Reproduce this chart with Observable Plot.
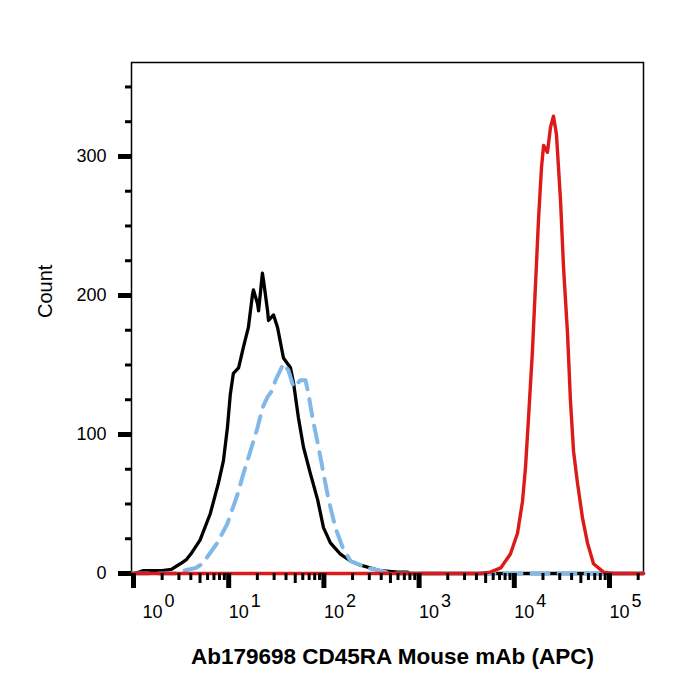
<!DOCTYPE html>
<html>
<head>
<meta charset="utf-8">
<script src="https://cdn.jsdelivr.net/npm/d3@7"></script>
<script src="https://cdn.jsdelivr.net/npm/@observablehq/plot@0.6"></script>
<style>
  body { margin: 0; background: #fff; }
  #chart svg { display: block; }
</style>
</head>
<body>
<div id="chart"></div>
<script>
// Fluorescence intensity axis (log) and event count axis
const intensityDomain = [0.953, 227500];
const countDomain = [0, 367.6];

const decades = [1, 10, 100, 1000, 10000, 100000];
const decadeExponents = ["0", "1", "2", "3", "4", "5"];
const countTicks = [0, 100, 200, 300];
const countMinorTicks = [25, 50, 75, 125, 150, 175, 225, 250, 275, 325, 350];

const xTitle = "Ab179698 CD45RA Mouse mAb (APC)";
const yTitle = "Count";

// [intensity, count]
const unstained = [
  [0.953, 0], [1.15, 1], [1.25, 2], [2.0, 2], [2.5, 3], [3.1, 7], [3.6, 10], [4.0, 14],
  [5.0, 24], [6.4, 43], [7.8, 65], [8.8, 81], [9.7, 105], [10.4, 129], [11.2, 144],
  [12.7, 148], [14.3, 163], [16.1, 177], [17.8, 201], [18.2, 204], [20.1, 194],
  [20.6, 189], [22.6, 216], [23.2, 211], [25.6, 189], [26.2, 182], [29.6, 186],
  [32.6, 177], [37.6, 155], [44.6, 148], [48, 137], [54, 112], [61, 91], [72, 72],
  [86, 53], [99, 33], [117, 22], [149, 14], [190, 9], [242, 6], [393, 2], [600, 1],
  [760, 1], [800, 0], [227500, 0]
];

const isotypeControl = [
  [0.953, 0], [3.0, 0], [3.3, 2], [4.5, 4], [5.3, 7], [7.6, 22], [9.7, 36], [12.4, 57],
  [14.3, 72], [16.9, 88], [20.1, 105], [22.6, 119], [25.6, 127], [28.8, 132], [31, 139],
  [37.6, 151], [42.5, 146], [48, 134], [56.8, 139], [64.1, 139], [68.9, 129], [75.9, 112],
  [87.8, 91], [99, 72], [112, 53], [132, 33], [157, 19], [190, 9], [287, 4], [393, 2],
  [500, 0], [227500, 0]
];

const cd45raApc = [
  [0.953, 0], [4400, 0], [5600, 1], [7200, 4], [9100, 14], [10800, 29], [12200, 52],
  [13100, 76], [14100, 112], [15500, 160], [16700, 208], [18000, 256], [19300, 292],
  [20300, 308], [22300, 303], [24000, 321], [25800, 329], [27700, 316], [30600, 268],
  [32900, 220], [36200, 173], [38900, 124], [41900, 88], [46100, 65], [52000, 40],
  [58700, 22], [67900, 7], [86500, 1], [110000, 0], [227500, 0]
];

// Log minor ticks: 2–9 within each decade, with 5 drawn a little longer
const inDomain = v => v >= intensityDomain[0] && v <= intensityDomain[1];
const minorTicks = decades.flatMap(d => [2, 3, 4, 6, 7, 8, 9].map(m => m * d)).filter(inDomain);
const midTicks = decades.map(d => 5 * d).filter(inDomain);

const labelFont = 18;

// "10" with a raised exponent; the first label sits clear of the corner
function decadeLabels(values, exps, shift) {
  return [
    Plot.text(values, {
      x: d => d, frameAnchor: "bottom", text: () => "10",
      textAnchor: "start", lineAnchor: "middle",
      dx: shift, dy: 39, fontSize: labelFont
    }),
    Plot.text(values, {
      x: d => d, frameAnchor: "bottom", text: (d, i) => exps[i],
      textAnchor: "start", lineAnchor: "middle",
      dx: shift + 22, dy: 28, fontSize: labelFont
    })
  ];
}

const chart = Plot.plot({
  width: 700,
  height: 700,
  marginLeft: 131,
  marginRight: 57,
  marginTop: 62,
  marginBottom: 127,
  style: {
    fontFamily: "'Liberation Sans', Arial, Helvetica, sans-serif",
    color: "#000",
    background: "#fff"
  },
  x: { type: "log", domain: intensityDomain },
  y: { domain: countDomain },
  marks: [
    // plot frame
    Plot.frame({ stroke: "#000", strokeWidth: 1.5 }),

    // histograms
    Plot.line(unstained, { x: d => d[0], y: d => d[1], stroke: "#000", strokeWidth: 3.3 }),
    Plot.line(isotypeControl, {
      x: d => d[0], y: d => d[1], stroke: "#80b8e8", strokeWidth: 4,
      strokeDasharray: "17 10"
    }),
    Plot.line(cd45raApc, { x: d => d[0], y: d => d[1], stroke: "#dd1a1a", strokeWidth: 3.4 }),

    // count axis
    Plot.axisY(countTicks, {
      anchor: "left", tickSize: 13, tickPadding: 12, strokeWidth: 5,
      fontSize: labelFont, label: null
    }),
    Plot.axisY(countMinorTicks, {
      anchor: "left", tickSize: 6, strokeWidth: 3, fill: "none", label: null
    }),

    // intensity axis ticks
    Plot.axisX(decades, {
      anchor: "bottom", tickSize: 15, strokeWidth: 5, fill: "none", label: null
    }),
    Plot.axisX(midTicks, {
      anchor: "bottom", tickSize: 10, strokeWidth: 3, fill: "none", label: null
    }),
    Plot.axisX(minorTicks, {
      anchor: "bottom", tickSize: 7, strokeWidth: 3, fill: "none", label: null
    }),

    // decade labels
    ...decadeLabels(decades.slice(0, 1), decadeExponents.slice(0, 1), 9),
    ...decadeLabels(decades.slice(1), decadeExponents.slice(1), 0),

    // axis titles
    Plot.text([yTitle], {
      frameAnchor: "left", text: d => d, rotate: -90,
      dx: -86, fontSize: 20
    }),
    Plot.text([xTitle], {
      frameAnchor: "bottom", text: d => d, dx: 5, dy: 90,
      fontSize: 22.5, fontWeight: "bold"
    })
  ]
});

document.getElementById("chart").appendChild(chart);
</script>
</body>
</html>
